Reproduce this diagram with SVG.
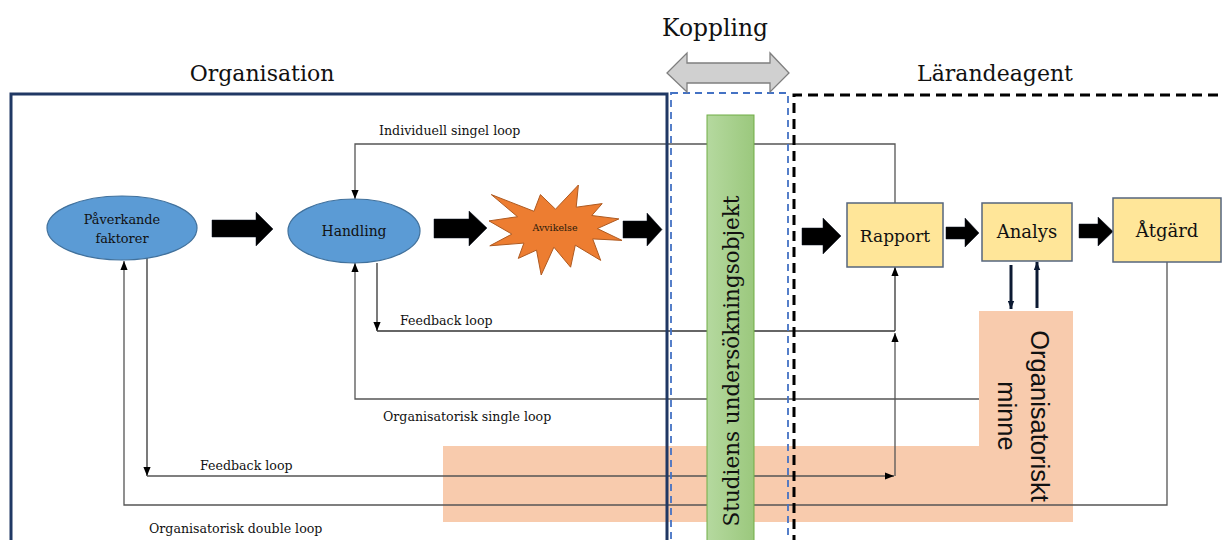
<svg xmlns="http://www.w3.org/2000/svg" width="1222" height="540" viewBox="0 0 1222 540">
<defs>
<linearGradient id="gbar" x1="0" y1="0" x2="1" y2="0">
<stop offset="0" stop-color="#b5d99f"/>
<stop offset="1" stop-color="#9bc87d"/>
</linearGradient>
<marker id="ah" viewBox="0 0 10 8" refX="10" refY="4" markerWidth="9" markerHeight="8" markerUnits="userSpaceOnUse" orient="auto">
<path d="M0,0 L10,4 L0,8 z" fill="#000"/>
</marker>
<marker id="ahn" viewBox="0 0 10 8" refX="10" refY="4" markerWidth="8" markerHeight="7" markerUnits="userSpaceOnUse" orient="auto">
<path d="M0,0 L10,4 L0,8 z" fill="#0c1a33"/>
</marker>
<style>
text{fill:#111}
.lbl{font-size:12.6px}
.title{font-size:22px}
.ln{fill:none;stroke:#333;stroke-width:1.3}
.lg{fill:none;stroke:#555;stroke-width:1.3}
.blk{fill:#000;stroke:#0a1020;stroke-width:0.5}
.ell{fill:#5b9bd5;stroke:#41719c;stroke-width:1.2}
.box{fill:#ffe699;stroke:#56667e;stroke-width:1.5}
.navy{fill:none;stroke:#0c1a33;stroke-width:3}
</style>
</defs>

<polygon id="memory-bg" points="979,311 1073,311 1073,522 443,522 443,446 979,446" fill="#f8cbad"/>

<g id="connectors">
<polyline class="lg" points="895,203 895,144 355,144 355,199" marker-end="url(#ah)"/>
<line class="ln" x1="377" y1="263" x2="377" y2="331" marker-end="url(#ah)"/>
<line class="ln" x1="377" y1="331" x2="895" y2="331"/>
<line class="lg" x1="895" y1="476" x2="895" y2="333" marker-end="url(#ah)"/>
<line class="ln" x1="895" y1="331" x2="895" y2="267" marker-end="url(#ah)"/>
<polyline class="lg" points="979,399 355,399 355,263" marker-end="url(#ah)"/>
<line class="ln" x1="147" y1="258" x2="147" y2="476" marker-end="url(#ah)"/>
<line class="lg" x1="147" y1="476" x2="894" y2="476" marker-end="url(#ah)"/>
<polyline class="lg" points="1167,262 1167,505 124,505 124,261" marker-end="url(#ah)"/>
<line class="navy" x1="1011" y1="265" x2="1011" y2="309" marker-end="url(#ahn)"/>
<line class="navy" x1="1037" y1="308" x2="1037" y2="262" marker-end="url(#ahn)"/>
<polygon class="blk" points="212,220 256,220 256,212 273,229 256,246 256,237 212,237"/>
<polygon class="blk" points="434,219 469,219 469,211 487,228 469,246 469,238 434,238"/>
<polygon class="blk" points="623,221 647,221 647,213 662,229.5 647,246 647,238 623,238"/>
<polygon class="blk" points="802,228 823,228 823,218 841,236 823,254 823,245 802,245"/>
<polygon class="blk" points="946,227 965,227 965,218 979,233 965,247 965,239 946,239"/>
<polygon class="blk" points="1079,224 1098,224 1098,217 1113,231.5 1098,246 1098,238 1079,238"/>
</g>

<g font-family="'DejaVu Serif', serif">
<g id="organisation">
<polyline points="11,545 11,94 667,94 667,545" fill="none" stroke="#203864" stroke-width="3"/>
<text class="title" x="262" y="81" text-anchor="middle">Organisation</text>
</g>
<g id="koppling">
<rect x="671" y="93" width="117" height="460" fill="none" stroke="#4472c4" stroke-width="1.8" stroke-dasharray="7,5"/>
<polygon points="667,73 687,53 687,63 770,63 770,53 789,73 770,92 770,83 687,83 687,92" fill="#d0d0d0" stroke="#7f7f7f" stroke-width="1.3"/>
<text x="715" y="36" text-anchor="middle" font-size="23.4">Koppling</text>
</g>
<g id="larandeagent">
<polyline points="794,545 794,95 1230,95" fill="none" stroke="#000" stroke-width="3" stroke-dasharray="10,6"/>
<text class="title" x="995" y="81" text-anchor="middle">Lärandeagent</text>
</g>

<g id="studiens">
<rect x="707" y="115" width="47" height="440" fill="url(#gbar)" stroke="#70ad47" stroke-width="1"/>
<text font-size="21.5" transform="translate(739,361) rotate(-90)" text-anchor="middle">Studiens undersökningsobjekt</text>
</g>

<g id="pavekande">
<ellipse class="ell" cx="122" cy="228" rx="75" ry="32"/>
<text font-size="12.9" x="122" y="224" text-anchor="middle">Påverkande</text>
<text font-size="12.9" x="122" y="243" text-anchor="middle">faktorer</text>
</g>
<g id="handling">
<ellipse class="ell" cx="354" cy="231" rx="66" ry="32"/>
<text font-size="13.9" x="354" y="236" text-anchor="middle">Handling</text>
</g>
<g id="avvikelse">
<polygon points="555.5,209.2 578.4,185 576.2,207.2 602.2,203.6 591.8,215.5 618.9,218.9 597.4,228.6 622,240.4 592.7,238.9 600.7,260.4 575.3,245.2 570.6,267.2 553.9,247.2 541.2,275 536.5,250.1 518.3,258.4 523.9,243.1 489.8,245.8 511.9,234.1 489,220.9 517.5,216.7 491.3,194.6 534,211.3 540.4,194.6" fill="#ed7d31" stroke="#ae5a21" stroke-width="1"/>
<text font-size="9.5" x="555" y="231" text-anchor="middle" style="fill:#2a1a0a">Avvikelse</text>
</g>
<g id="rapport">
<rect class="box" x="847" y="203" width="96" height="64"/>
<text font-size="17" x="895" y="242" text-anchor="middle">Rapport</text>
</g>
<g id="analys">
<rect class="box" x="982" y="203" width="90" height="58"/>
<text font-size="18" x="1027" y="238" text-anchor="middle">Analys</text>
</g>
<g id="atgard">
<rect class="box" x="1113" y="198" width="108" height="64"/>
<text font-size="18" x="1167" y="237" text-anchor="middle">Åtgärd</text>
</g>

<g id="labels">
<text class="lbl" x="379" y="135">Individuell singel loop</text>
<text class="lbl" x="400" y="325">Feedback loop</text>
<text class="lbl" x="383" y="421">Organisatorisk single loop</text>
<text class="lbl" x="200" y="470">Feedback loop</text>
<text class="lbl" x="149" y="533">Organisatorisk double loop</text>
</g>
</g>

<g id="memory" font-family="'Liberation Sans', Arial, sans-serif">
<text font-size="25.5" transform="translate(1031,416) rotate(90)" text-anchor="middle">Organisatoriskt</text>
<text font-size="25.5" transform="translate(998,416) rotate(90)" text-anchor="middle">minne</text>
</g>
</svg>
